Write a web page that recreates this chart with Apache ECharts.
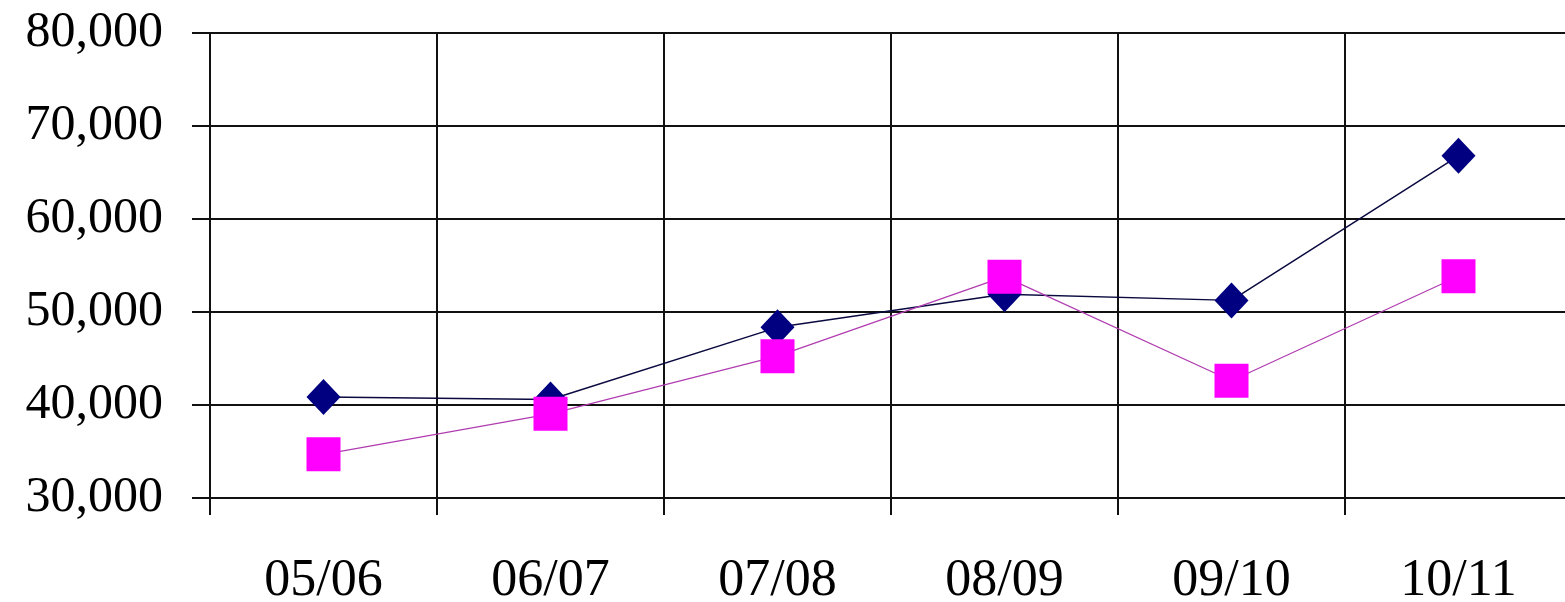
<!DOCTYPE html>
<html>
<head>
<meta charset="utf-8">
<script src="https://cdn.jsdelivr.net/npm/echarts@6/dist/echarts.min.js"></script>
<style>
  html, body { margin: 0; padding: 0; background: #fff; }
  #chart { width: 1565px; height: 602px; }
</style>
</head>
<body>
<div id="chart"></div>
<script>
// Season labels along the category axis
const seasons = ['05/06', '06/07', '07/08', '08/09', '09/10', '10/11'];
// First series (navy diamonds)
const seriesA = [40850, 40600, 48350, 51900, 51250, 66800];
// Second series (magenta squares)
const seriesB = [34700, 39050, 45250, 53800, 42600, 53850];
// Value axis range and step
const yMin = 30000;
const yMax = 80000;
const yStep = 10000;

const serif = '"Liberation Serif", "DejaVu Serif", serif';
const ink = '#111';

const chart = echarts.init(document.getElementById('chart'), null, { renderer: 'canvas' });

chart.setOption({
  backgroundColor: '#ffffff',
  animation: false,
  grid: {
    left: 210, top: 33, width: 1362, height: 465,
    containLabel: false,
    outerBoundsMode: 'none'
  },
  xAxis: {
    type: 'category',
    data: seasons,
    boundaryGap: true,
    axisLine: { show: true, lineStyle: { color: ink, width: 2 } },
    axisTick: { show: true, alignWithLabel: false, interval: 0, length: 17, lineStyle: { color: ink, width: 2 } },
    splitLine: { show: true, interval: 0, lineStyle: { color: ink, width: 2 } },
    axisLabel: { interval: 0, margin: 57, color: '#000', fontFamily: serif, fontSize: 52 }
  },
  yAxis: {
    type: 'value',
    min: yMin,
    max: yMax,
    interval: yStep,
    axisLine: { show: true, lineStyle: { color: ink, width: 2 } },
    axisTick: { show: true, length: 18, lineStyle: { color: ink, width: 2 } },
    splitLine: { show: true, lineStyle: { color: ink, width: 2 } },
    axisLabel: {
      margin: 47,
      color: '#000',
      fontFamily: serif,
      fontSize: 50,
      formatter: v => v.toLocaleString('en-US')
    }
  },
  series: [
    {
      type: 'line',
      data: seriesA,
      symbol: 'diamond',
      symbolSize: [34, 36],
      lineStyle: { color: '#0a0a40', width: 1.5 },
      itemStyle: { color: '#000080' },
      z: 3
    },
    {
      type: 'line',
      data: seriesB,
      symbol: 'rect',
      symbolSize: 34,
      lineStyle: { color: '#b03cb0', width: 1.2 },
      itemStyle: { color: '#ff00ff' },
      z: 4
    }
  ]
});
</script>
</body>
</html>
